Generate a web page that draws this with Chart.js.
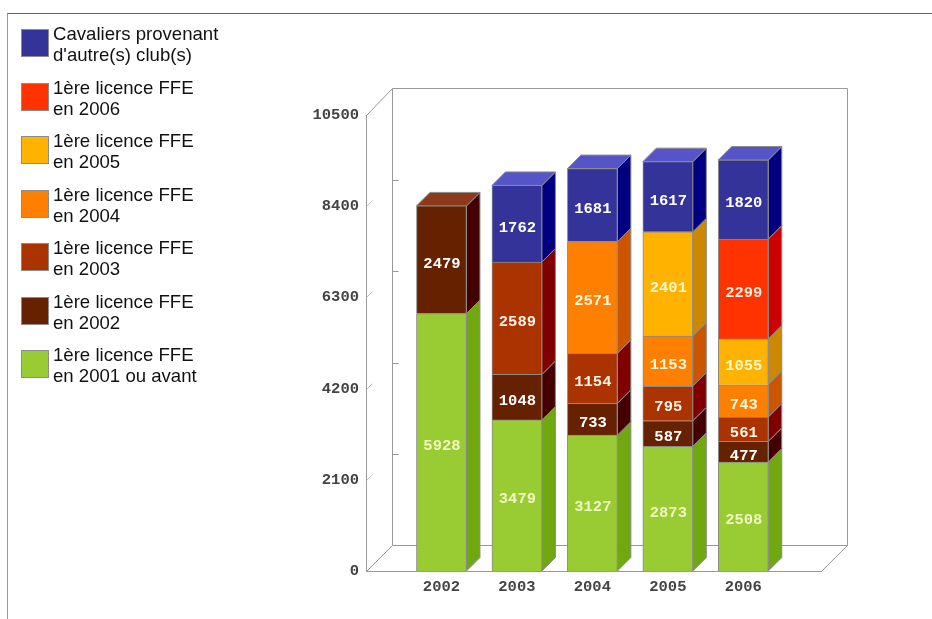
<!DOCTYPE html>
<html>
<head>
<meta charset="utf-8">
<title>Cavaliers</title>
<script src="https://cdn.jsdelivr.net/npm/chart.js@4"></script>
<style>
  html, body { margin: 0; padding: 0; background: #fff; overflow: hidden; }
  #wrap { position: relative; width: 932px; height: 619px; }
  #frame { position: absolute; left: 7px; top: 13px; right: 0; bottom: 0; border-top: 1px solid #2e8b2e; border-left: 1px solid #66c066; }
  #chart { position: absolute; left: 0; top: 0; }
  #legend { position: absolute; left: 21px; top: 23px; font: 18.6px/21px "Liberation Sans", Arial, sans-serif; color: #111; }
  .item { position: relative; height: 42px; margin-bottom: 11.5px; padding-left: 32px; white-space: nowrap; }
  .swatch { position: absolute; left: 0; top: 6px; width: 26px; height: 26px; border: 1px solid #8c8c8c; }
</style>
</head>
<body>
<div id="wrap">
  <div id="frame"></div>
  <canvas id="chart" width="932" height="619"></canvas>
  <div id="legend"></div>
</div>
<script>
const years = [2002, 2003, 2004, 2005, 2006];

// bottom to top of each stack
const seriesLabels = [
  ['1ère licence FFE', 'en 2001 ou avant'],
  ['1ère licence FFE', 'en 2002'],
  ['1ère licence FFE', 'en 2003'],
  ['1ère licence FFE', 'en 2004'],
  ['1ère licence FFE', 'en 2005'],
  ['1ère licence FFE', 'en 2006'],
  ['Cavaliers provenant', "d'autre(s) club(s)"]
];
const before2002 = [5928, 3479, 3127, 2873, 2508];
const first2002 = [2479, 1048, 733, 587, 477];
const first2003 = [null, 2589, 1154, 795, 561];
const first2004 = [null, null, 2571, 1153, 743];
const first2005 = [null, null, null, 2401, 1055];
const first2006 = [null, null, null, null, 2299];
const otherClubs = [null, 1762, 1681, 1617, 1820];
const seriesValues = [before2002, first2002, first2003, first2004, first2005, first2006, otherClubs];

const frontColors = ['#99cc33', '#662200', '#aa3300', '#ff8000', '#ffb300', '#ff3300', '#333399'];
const sideColors = ['#6fa80f', '#440000', '#800000', '#cc5500', '#cc8800', '#cc0000', '#000080'];
const topColors = ['#b8e060', '#8c3a1a', '#cc5522', '#ffa040', '#ffd040', '#ff6640', '#5555c8'];
const labelColors = ['#f0f7c0', '#ffffff', '#fff4e8', '#fff8dc', '#fff8c8', '#fff0e0', '#ffffff'];

const DEPTH = 13.5;   // bar depth
const WALL = 26;      // back wall offset
const LINE = '#999999';

// legend, top entry is the top of the stack
const legendEl = document.getElementById('legend');
seriesLabels.map((lines, i) => i).reverse().forEach(i => {
  const item = document.createElement('div');
  item.className = 'item';
  const swatch = document.createElement('span');
  swatch.className = 'swatch';
  swatch.style.background = frontColors[i];
  item.appendChild(swatch);
  item.appendChild(document.createTextNode(seriesLabels[i][0]));
  item.appendChild(document.createElement('br'));
  item.appendChild(document.createTextNode(seriesLabels[i][1]));
  legendEl.appendChild(item);
});

function poly(ctx, pts, fill) {
  ctx.beginPath();
  pts.forEach((p, i) => i ? ctx.lineTo(p[0], p[1]) : ctx.moveTo(p[0], p[1]));
  ctx.closePath();
  ctx.fillStyle = fill;
  ctx.fill();
  ctx.strokeStyle = '#8a8a8a';
  ctx.lineWidth = 1;
  ctx.stroke();
}

function seg(ctx, x1, y1, x2, y2, color) {
  ctx.beginPath();
  ctx.moveTo(x1, y1);
  ctx.lineTo(x2, y2);
  ctx.strokeStyle = color;
  ctx.lineWidth = 1;
  ctx.stroke();
}

// back wall, floor and the depth of the bars
const box3d = {
  id: 'box3d',
  beforeDatasetsDraw(chart) {
    const ctx = chart.ctx;
    const { left, right, top, bottom } = chart.chartArea;
    ctx.save();
    const l = Math.round(left) + 0.5, r = Math.round(right) + 0.5;
    const t = Math.round(top) + 0.5, b = Math.round(bottom) + 0.5;
    const wallTop = t - WALL - 1;
    seg(ctx, l + WALL, wallTop, r + WALL, wallTop, LINE);
    seg(ctx, l + WALL, wallTop, l + WALL, b - WALL, LINE);
    seg(ctx, r + WALL, wallTop, r + WALL, b - WALL, LINE);
    seg(ctx, l + WALL, b - WALL, r + WALL, b - WALL, LINE);
    seg(ctx, l, t, l + WALL, wallTop, LINE);
    seg(ctx, l, b, l + WALL, b - WALL, LINE);
    seg(ctx, r, b, r + WALL, b - WALL, LINE);
    chart.scales.y.ticks.forEach(tick => {
      if (tick.value === 0 || tick.value === 10500) return;
      const y = Math.round(chart.scales.y.getPixelForValue(tick.value)) + 0.5;
      seg(ctx, l, y, l + 6, y - 6, '#c4c4c4');
      seg(ctx, l + WALL, y - WALL, l + WALL + 6, y - WALL, LINE);
    });

    seriesValues.forEach((values, d) => {
      const meta = chart.getDatasetMeta(d);
      values.forEach((v, i) => {
        if (v === null) return;
        const bar = meta.data[i];
        const x = bar.x + bar.width / 2;
        poly(ctx, [[x, bar.y], [x + DEPTH, bar.y - DEPTH], [x + DEPTH, bar.base - DEPTH], [x, bar.base]], sideColors[d]);
        const above = seriesValues.slice(d + 1).some(s => s[i] !== null);
        if (!above) {
          const x0 = bar.x - bar.width / 2;
          poly(ctx, [[x0, bar.y], [x0 + DEPTH, bar.y - DEPTH], [x + DEPTH, bar.y - DEPTH], [x, bar.y]], topColors[d]);
        }
      });
    });
    ctx.restore();
  },
  afterDatasetsDraw(chart) {
    const ctx = chart.ctx;
    ctx.save();
    ctx.font = 'bold 15.5px "Liberation Mono", monospace';
    ctx.textAlign = 'center';
    ctx.textBaseline = 'middle';
    seriesValues.forEach((values, d) => {
      const meta = chart.getDatasetMeta(d);
      values.forEach((v, i) => {
        if (v === null) return;
        const bar = meta.data[i];
        ctx.fillStyle = labelColors[d];
        ctx.fillText(String(v), bar.x + 0.5, (bar.y + bar.base) / 2 + 4);
      });
    });
    ctx.restore();
  }
};

const axisFont = { family: '"Liberation Mono", monospace', size: 15.5, weight: 'bold' };

new Chart(document.getElementById('chart').getContext('2d'), {
  type: 'bar',
  plugins: [box3d],
  data: {
    datasets: seriesValues.map((values, d) => ({
      label: seriesLabels[d].join(' '),
      data: years.map((y, i) => ({ x: y, y: values[i] })),
      backgroundColor: frontColors[d],
      borderColor: '#8a8a8a',
      borderWidth: 1,
      barThickness: 50
    }))
  },
  options: {
    responsive: false,
    animation: false,
    layout: { padding: { left: 300, right: 111, top: 115, bottom: 0 } },
    plugins: { legend: { display: false }, tooltip: { enabled: false } },
    scales: {
      x: {
        type: 'linear',
        stacked: true,
        offset: false,
        min: 2001,
        max: 2007.03,
        grid: { display: false },
        border: { display: true, color: LINE },
        afterFit(scale) { scale.height = 48; },
        ticks: {
          stepSize: 1,
          autoSkip: false,
          maxRotation: 0,
          padding: -1,
          color: '#444444',
          font: axisFont,
          callback: v => years.includes(v) ? String(v) : ''
        }
      },
      y: {
        stacked: true,
        min: 0,
        max: 10500,
        grid: { display: false },
        border: { display: true, color: LINE },
        afterFit(scale) { scale.width = 66; },
        ticks: {
          stepSize: 2100,
          padding: -1,
          color: '#444444',
          font: axisFont,
          callback: v => String(v)
        }
      }
    }
  }
});
</script>
</body>
</html>
